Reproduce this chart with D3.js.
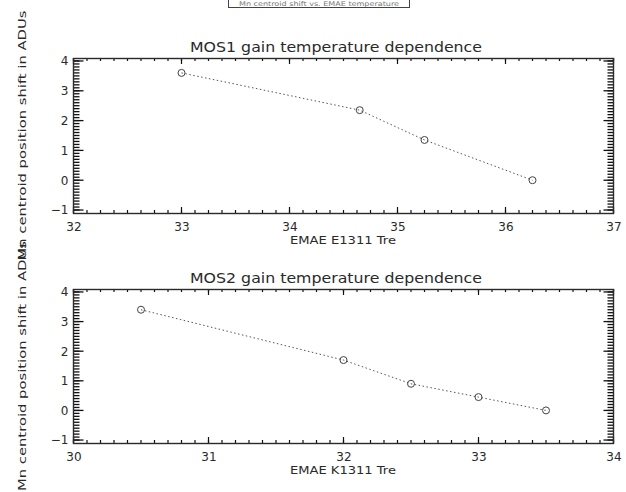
<!DOCTYPE html>
<html>
<head>
<meta charset="utf-8">
<script src="https://cdn.jsdelivr.net/npm/d3@7"></script>
<style>
  html, body { margin: 0; padding: 0; background: #fff; }
  svg { display: block; font-family: "DejaVu Sans", sans-serif; }
</style>
</head>
<body>
<svg id="chart" width="626" height="492"></svg>
<script>
// MOS1 detector: Mn line centroid shift vs. EMAE E1311 temperature
const mos1Temp  = [33.0, 34.65, 35.25, 36.25];
const mos1Shift = [3.6, 2.35, 1.35, 0.0];

// MOS2 detector: Mn line centroid shift vs. EMAE K1311 temperature
const mos2Temp  = [30.5, 32.0, 32.5, 33.0, 33.5];
const mos2Shift = [3.4, 1.7, 0.9, 0.45, 0.0];

// Axis ranges and tick labels
const mos1XTicks = [32, 33, 34, 35, 36, 37];
const mos2XTicks = [30, 31, 32, 33, 34];
const yTicks = [-1, 0, 1, 2, 3, 4];

const panels = [
  { title: "MOS1 gain temperature dependence", xTitle: "EMAE E1311 Tre",
    temp: mos1Temp, shift: mos1Shift, xTicks: mos1XTicks, xMinorPerMajor: 8,
    top: 58, bottom: 213 },
  { title: "MOS2 gain temperature dependence", xTitle: "EMAE K1311 Tre",
    temp: mos2Temp, shift: mos2Shift, xTicks: mos2XTicks, xMinorPerMajor: 10,
    top: 289, bottom: 443 }
];

const svg = d3.select("#chart");
const left = 73.5, right = 613.5;
const ink = "#2a2a2a";
const tickInk = "#111";

// Small caption box at the very top of the page
const cap = svg.append("g");
cap.append("rect")
  .attr("x", 228.5).attr("y", -2.5).attr("width", 181).attr("height", 10)
  .attr("fill", "none").attr("stroke", "#444").attr("stroke-width", 1);
cap.append("text")
  .attr("x", 319).attr("y", 6).attr("text-anchor", "middle")
  .attr("font-size", 6.5).attr("fill", "#777")
  .attr("textLength", 160).attr("lengthAdjust", "spacingAndGlyphs")
  .text("Mn centroid shift vs. EMAE temperature");

function minorValues(ticks, perMajor) {
  const out = [];
  const step = (ticks[1] - ticks[0]) / perMajor;
  const lo = ticks[0], hi = ticks[ticks.length - 1];
  const n = Math.round((hi - lo) / step);
  for (let i = 0; i <= n; i++) out.push(lo + i * step);
  return out;
}

// Draws a set of tick marks along one frame edge
function tickMarks(g, values, pos, orient, len, width) {
  g.append("g").selectAll("line").data(values).join("line")
    .attr("x1", d => orient === "h" ? pos.scale(d) : pos.at)
    .attr("x2", d => orient === "h" ? pos.scale(d) : pos.at + len)
    .attr("y1", d => orient === "h" ? pos.at : pos.scale(d))
    .attr("y2", d => orient === "h" ? pos.at + len : pos.scale(d))
    .attr("stroke", tickInk).attr("stroke-width", width || 1);
}

panels.forEach(p => {
  const x = d3.scaleLinear()
    .domain([p.xTicks[0], p.xTicks[p.xTicks.length - 1]])
    .range([left, right]);
  const y = d3.scaleLinear().domain([-1.1, 4.1]).range([p.bottom, p.top]);

  const g = svg.append("g");

  const xMinor = minorValues(p.xTicks, p.xMinorPerMajor);
  const yMinor = minorValues(yTicks, 10);

  // Minor and major ticks on all four edges, pointing inward
  tickMarks(g, xMinor, { scale: x, at: p.bottom }, "h", -3, 1.2);
  tickMarks(g, p.xTicks, { scale: x, at: p.bottom }, "h", -6, 1.2);
  tickMarks(g, xMinor, { scale: x, at: p.top }, "h", 3, 1.2);
  tickMarks(g, p.xTicks, { scale: x, at: p.top }, "h", 6, 1.2);
  tickMarks(g, yMinor, { scale: y, at: left }, "v", 6, 1.3);
  tickMarks(g, yTicks, { scale: y, at: left }, "v", 10, 1.3);
  tickMarks(g, yMinor, { scale: y, at: right }, "v", -6, 1.3);
  tickMarks(g, yTicks, { scale: y, at: right }, "v", -10, 1.3);

  // Tick labels via the library's axes (tick lines hidden)
  g.append("g").attr("transform", `translate(0,${p.bottom})`)
    .call(d3.axisBottom(x).tickValues(p.xTicks).tickFormat(d3.format("d"))
      .tickSize(0).tickPadding(9))
    .call(sel => {
      sel.select(".domain").remove();
      sel.selectAll("text").attr("fill", ink).attr("font-size", 12)
        .attr("font-family", "DejaVu Sans, sans-serif");
    });
  g.append("g").attr("transform", `translate(${left},0)`)
    .call(d3.axisLeft(y).tickValues(yTicks)
      .tickFormat(d => d < 0 ? "\u2212" + Math.abs(d) : d)
      .tickSize(0).tickPadding(5))
    .call(sel => {
      sel.select(".domain").remove();
      sel.selectAll("text").attr("fill", ink).attr("font-size", 12)
        .attr("font-family", "DejaVu Sans, sans-serif");
    });

  // Plot frame
  g.append("rect")
    .attr("x", left).attr("y", p.top + 0.5)
    .attr("width", right - left).attr("height", p.bottom - p.top)
    .attr("fill", "none").attr("stroke", ink).attr("stroke-width", 1.4);

  // Title and x-axis title
  g.append("text")
    .attr("x", 336).attr("y", p.top - 6).attr("text-anchor", "middle")
    .attr("font-size", 14).attr("fill", ink)
    .attr("textLength", 292).attr("lengthAdjust", "spacingAndGlyphs")
    .text(p.title);
  g.append("text")
    .attr("x", 343).attr("y", p.bottom + 31).attr("text-anchor", "middle")
    .attr("font-size", 11).attr("fill", ink)
    .attr("textLength", 106).attr("lengthAdjust", "spacingAndGlyphs")
    .text(p.xTitle);

  // Y-axis title
  const cy = (p.top + p.bottom) / 2;
  g.append("text")
    .attr("transform", `translate(26,${cy}) rotate(-90)`)
    .attr("text-anchor", "middle")
    .attr("font-size", 11).attr("fill", ink)
    .attr("textLength", 250).attr("lengthAdjust", "spacingAndGlyphs")
    .text("Mn centroid position shift in ADUs");

  // Data: dotted connecting line and open circle markers
  const pts = p.temp.map((t, i) => [t, p.shift[i]]);
  g.append("path")
    .datum(pts)
    .attr("d", d3.line().x(d => x(d[0])).y(d => y(d[1])))
    .attr("fill", "none").attr("stroke", "#555").attr("stroke-width", 1)
    .attr("stroke-dasharray", "1.5,2.5");
  g.selectAll("circle.pt").data(pts).join("circle")
    .attr("class", "pt")
    .attr("cx", d => x(d[0])).attr("cy", d => y(d[1])).attr("r", 3.5)
    .attr("fill", "none").attr("stroke", "#444").attr("stroke-width", 1);
});
</script>
</body>
</html>
